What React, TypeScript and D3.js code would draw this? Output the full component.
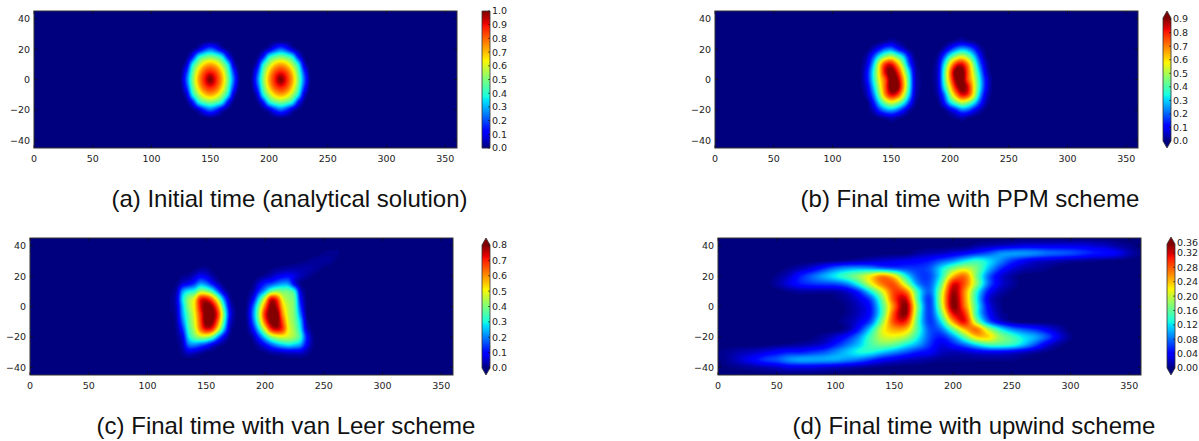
import React from "react";
import * as d3 from "d3";

// ---------- data ----------
const xTicks = [0, 50, 100, 150, 200, 250, 300, 350];
const yTicks = [40, 20, 0, -20, -40];
const captions = [
  "(a) Initial time (analytical solution)",
  "(b) Final time with PPM scheme",
  "(c) Final time with van Leer scheme",
  "(d) Final time with upwind scheme",
];
const barTicksA = ["0.0","0.1","0.2","0.3","0.4","0.5","0.6","0.7","0.8","0.9","1.0"];
const barTicksB = ["0.0","0.1","0.2","0.3","0.4","0.5","0.6","0.7","0.8","0.9"];
const barTicksC = ["0.0","0.1","0.2","0.3","0.4","0.5","0.6","0.7","0.8"];
const barTicksD = ["0.00","0.04","0.08","0.12","0.16","0.20","0.24","0.28","0.32","0.36"];

// lon 120..240 step 5, lat 30..-30 step 5
const fieldA = [
  [0,0,0,0,0,0,0,0,0,0,0,0,0, 0,0,0,0,0,0,0,0,0,0,0,0],
  [0,0,0,0,.004,.01,.015,.01,.004,0,0,0,0, 0,0,0,.004,.01,.015,.01,.004,0,0,0,0],
  [0,0,0,.01,.06,.16,.22,.16,.06,.01,0,0,0, 0,0,.01,.06,.16,.22,.16,.06,.01,0,0,0],
  [0,0,.01,.13,.36,.45,.49,.45,.36,.13,.01,0,0, 0,.01,.13,.36,.45,.49,.45,.36,.13,.01,0,0],
  [0,0,.07,.36,.54,.67,.72,.67,.54,.36,.07,0,0, 0,.07,.36,.54,.67,.72,.67,.54,.36,.07,0,0],
  [0,.004,.17,.45,.67,.82,.88,.82,.67,.45,.17,.004,0, .004,.17,.45,.67,.82,.88,.82,.67,.45,.17,.004,0],
  [0,.015,.22,.49,.72,.88,1,.88,.72,.49,.22,.015,0, .015,.22,.49,.72,.88,1,.88,.72,.49,.22,.015,0],
  [0,.004,.17,.45,.67,.82,.88,.82,.67,.45,.17,.004,0, .004,.17,.45,.67,.82,.88,.82,.67,.45,.17,.004,0],
  [0,0,.07,.36,.54,.67,.72,.67,.54,.36,.07,0,0, 0,.07,.36,.54,.67,.72,.67,.54,.36,.07,0,0],
  [0,0,.01,.13,.36,.45,.49,.45,.36,.13,.01,0,0, 0,.01,.13,.36,.45,.49,.45,.36,.13,.01,0,0],
  [0,0,0,.01,.06,.16,.22,.16,.06,.01,0,0,0, 0,0,.01,.06,.16,.22,.16,.06,.01,0,0,0],
  [0,0,0,0,.004,.01,.015,.01,.004,0,0,0,0, 0,0,0,.004,.01,.015,.01,.004,0,0,0,0],
  [0,0,0,0,0,0,0,0,0,0,0,0,0, 0,0,0,0,0,0,0,0,0,0,0,0],
];

// lon 125..235 step 5, lat 30..-30 step 5
const fieldB = [
  [0,0,0,0,0,0,0,0,0,0,0, 0, 0,0,0,0,0,0,0,0,0,0,0],
  [0,0,0,.005,.02,.04,.02,.005,0,0,0, 0, 0,0,0,.01,.03,.05,.03,.015,0,0,0],
  [0,.005,.05,.12,.2,.22,.14,.07,.01,0,0, 0, 0,0,.04,.13,.22,.27,.24,.16,.05,.005,0],
  [.002,.05,.18,.35,.47,.52,.43,.31,.12,.01,0, 0, 0,.03,.18,.37,.49,.55,.47,.32,.14,.02,0],
  [.01,.09,.29,.57,.78,.82,.67,.46,.2,.04,0, 0, .005,.06,.31,.58,.78,.83,.69,.45,.22,.06,0],
  [.02,.13,.35,.6,.84,.93,.82,.58,.32,.06,.005, 0, .01,.07,.37,.69,.93,.94,.75,.52,.29,.09,.005],
  [.02,.13,.34,.57,.74,.94,.9,.67,.37,.07,.01, 0, .01,.07,.37,.67,.9,.94,.75,.57,.34,.13,.02],
  [.01,.09,.29,.52,.74,.94,.93,.69,.37,.07,.01, 0, .005,.06,.32,.58,.82,.93,.84,.6,.35,.13,.02],
  [0,.06,.22,.45,.69,.83,.78,.58,.31,.06,.005, 0, 0,.04,.2,.46,.67,.82,.78,.57,.29,.09,.01],
  [0,.01,.13,.32,.47,.55,.49,.37,.18,.03,0, 0, 0,.01,.12,.31,.43,.52,.47,.35,.18,.05,.002],
  [0,.005,.05,.16,.24,.27,.22,.13,.04,0,0, 0, 0,0,.01,.07,.14,.22,.2,.12,.05,.005,0],
  [0,0,0,.015,.03,.05,.03,.01,0,0,0, 0, 0,0,0,.005,.02,.04,.02,.005,0,0,0],
  [0,0,0,0,0,0,0,0,0,0,0, 0, 0,0,0,0,0,0,0,0,0,0,0],
];

// lon 120..265 step 5, lat 40..-35 step 5
const fieldC = [
  [0,0,0,0,0,0,0,0,0,0,0,0, 0,0,0,0,0,0,0,0,0,0,0,0,0,0,0,0,0,0],
  [0,0,0,0,0,0,0,0,0,0,0,0, 0,0,0,0,0,0,0,0,0,0,0,0,0,.003,.008,.012,.012,.005],
  [0,0,0,0,0,0,0,0,0,0,0,0, 0,0,0,0,0,0,0,0,0,0,.003,.008,.014,.018,.02,.016,.005,0],
  [0,0,0,0,.004,.015,.015,.004,0,0,0,0, 0,0,0,0,0,.005,.012,.018,.022,.026,.028,.028,.024,.015,.005,0,0,0],
  [0,0,.012,.02,.05,.09,.07,.03,.005,0,0,0, 0,0,0,.005,.02,.04,.07,.09,.1,.07,.04,.02,.007,0,0,0,0,0],
  [0,.01,.06,.09,.14,.22,.19,.11,.04,.005,0,0, 0,0,.01,.06,.12,.15,.19,.22,.21,.08,.01,0,0,0,0,0,0,0],
  [.005,.04,.22,.29,.32,.43,.41,.33,.18,.05,.005,0, 0,.005,.03,.14,.24,.37,.41,.39,.38,.31,.07,.005,0,0,0,0,0,0],
  [.01,.06,.28,.42,.5,.7,.72,.62,.43,.2,.03,0, 0,.01,.09,.28,.48,.72,.68,.49,.42,.37,.11,.01,0,0,0,0,0,0],
  [.01,.05,.25,.42,.52,.72,.82,.78,.6,.31,.07,.005, 0,.02,.17,.39,.62,.8,.76,.55,.45,.38,.15,.01,0,0,0,0,0,0],
  [.005,.04,.23,.38,.5,.68,.82,.82,.68,.38,.1,.01, 0,.03,.2,.43,.7,.82,.82,.6,.46,.39,.2,.02,0,0,0,0,0,0],
  [0,.03,.19,.36,.48,.66,.82,.8,.62,.34,.07,.005, 0,.02,.17,.39,.64,.8,.82,.66,.48,.4,.26,.04,0,0,0,0,0,0],
  [0,.02,.13,.33,.45,.62,.72,.68,.49,.25,.04,0, 0,.01,.1,.28,.48,.68,.74,.68,.5,.42,.29,.07,.005,0,0,0,0,0],
  [0,.01,.07,.28,.38,.44,.44,.37,.21,.08,.01,0, 0,0,.03,.14,.27,.4,.46,.48,.46,.42,.33,.13,.02,0,0,0,0,0],
  [0,.005,.04,.19,.21,.18,.14,.08,.03,.01,0,0, 0,0,.005,.04,.1,.17,.23,.27,.29,.27,.23,.1,.02,0,0,0,0,0],
  [0,0,.02,.06,.05,.03,.01,.005,0,0,0,0, 0,0,0,.005,.01,.03,.04,.05,.06,.06,.06,.03,.005,0,0,0,0,0],
  [0,0,0,0,0,0,0,0,0,0,0,0, 0,0,0,0,0,0,0,0,0,0,0,0,0,0,0,0,0,0],
];

// lon 0..360 step 10, lat 45..-45 step 5
const fieldD = [
  [0,0,0,0,0,0,0,0,0,0, 0,0,0,0,0,0,0,0,0,0, 0,0,0,0,0,0,0,0,0,0, 0,0,0,0,0,0,0],
  [0,0,0,0,0,0,0,0,0,0, 0,0,0,0,0,0,0,0,0,0, 0,0,.01,.015,.02,.025,.03,.03,.03,.03, .03,.03,.025,.02,.01,.005,0],
  [0,0,0,0,0,0,0,0,0,0, 0,0,0,0,0,0,0,.01,.015,.02, .03,.04,.055,.07,.09,.095,.095,.09,.08,.075, .07,.06,.05,.045,.035,.015,.003],
  [0,0,0,0,0,0,0,0,0,.003, .005,.01,.015,.02,.025,.03,.035,.04,.05,.07, .09,.12,.14,.12,.09,.06,.04,.025,.02,.015, .01,.008,.005,.003,.001,0,0],
  [0,0,0,0,0,0,.005,.015,.03,.055, .08,.095,.1,.095,.08,.07,.065,.06,.07,.12, .17,.2,.17,.11,.06,.03,.015,.01,.005,0, 0,0,0,0,0,0,0],
  [0,0,0,0,0,.005,.02,.05,.075,.1, .125,.15,.18,.22,.26,.22,.13,.07,.065,.13, .24,.27,.17,.08,.03,.01,0,0,0,0, 0,0,0,0,0,0,0],
  [0,0,0,0,0,.01,.03,.05,.06,.065, .07,.09,.14,.21,.27,.28,.19,.09,.07,.16, .31,.28,.18,.08,.03,.01,0,0,0,0, 0,0,0,0,0,0,0],
  [0,0,0,0,0,0,.005,.01,.01,.01, .012,.025,.06,.13,.21,.29,.27,.14,.075,.19, .335,.26,.14,.05,.015,.003,0,0,0,0, 0,0,0,0,0,0,0],
  [0,0,0,0,0,0,0,0,0,0, .003,.01,.03,.07,.17,.29,.32,.15,.06,.2, .345,.26,.13,.03,.005,0,0,0,0,0, 0,0,0,0,0,0,0],
  [0,0,0,0,0,0,0,0,0,0, 0,.005,.02,.05,.15,.27,.345,.17,.06,.19, .345,.27,.14,.04,.006,0,0,0,0,0, 0,0,0,0,0,0,0],
  [0,0,0,0,0,0,0,0,0,0, 0,.005,.02,.05,.15,.29,.34,.16,.06,.16, .31,.3,.14,.05,.01,.002,0,0,0,0, 0,0,0,0,0,0,0],
  [0,0,0,0,0,0,0,0,0,0, .002,.01,.03,.07,.18,.29,.3,.15,.06,.12, .25,.31,.18,.08,.03,.008,0,0,0,0, 0,0,0,0,0,0,0],
  [0,0,0,0,0,0,0,0,0,0, 0,.01,.05,.12,.21,.25,.24,.15,.07,.08, .16,.24,.27,.19,.13,.09,.07,.055,.035,.015, 0,0,0,0,0,0,0],
  [0,0,0,0,0,0,0,0,.002,.01, .025,.05,.09,.15,.2,.21,.19,.13,.07,.05, .09,.16,.23,.23,.18,.15,.12,.1,.07,.03, .005,0,0,0,0,0,0],
  [0,0,0,0,0,.003,.006,.01,.015,.025, .05,.08,.11,.15,.17,.16,.13,.1,.06,.03, .05,.08,.12,.15,.15,.14,.11,.07,.03,.008, 0,0,0,0,0,0,0],
  [.003,.008,.015,.02,.03,.04,.05,.05,.06,.07, .09,.11,.13,.13,.11,.09,.07,.05,.04,.02, .015,.02,.03,.035,.035,.03,.02,.01,.003,0, 0,0,0,0,0,0,0],
  [.002,.01,.025,.04,.06,.07,.09,.1,.1,.1, .1,.09,.08,.06,.04,.03,.02,.015,.01,.005, .005,.005,.005,.005,.005,.005,.002,0,0,0, 0,0,0,0,0,0,0],
  [0,.003,.006,.01,.015,.02,.03,.03,.03,.025, .02,.015,.01,.005,.002,0,0,0,0,0, 0,0,0,0,0,0,0,0,0,0, 0,0,0,0,0,0,0],
  [0,0,0,0,0,0,0,0,0,0, 0,0,0,0,0,0,0,0,0,0, 0,0,0,0,0,0,0,0,0,0, 0,0,0,0,0,0,0],
];

// ---------- jet colour map ----------
const jetStops: [number, string][] = [
  [0, "#00007f"], [0.11, "#0000ff"], [0.125, "#0000ff"], [0.34, "#00dcff"], [0.35, "#00e4f7"],
  [0.375, "#16ffe1"], [0.5, "#7cff7a"], [0.64, "#fff600"], [0.66, "#ffe000"],
  [0.89, "#ff1300"], [0.91, "#e80000"], [1, "#7f0000"],
];
const jet = d3.scaleLinear<string>()
  .domain(jetStops.map((s) => s[0]))
  .range(jetStops.map((s) => s[1]))
  .clamp(true);

// bicubic smoothing of a grid, the equivalent of imshow's drawing interpolation
function smoothGrid(rows: number[][], k: number) {
  const ny = rows.length, nx = rows[0].length;
  const W = (nx - 1) * k + 1, H = (ny - 1) * k + 1;
  const cubic = (a: number, b: number, c: number, d: number, t: number) =>
    b + 0.5 * t * (c - a + t * (2 * a - 5 * b + 4 * c - d + t * (3 * (b - c) + d - a)));
  const at = (j: number, i: number) => {
    const r = rows[Math.max(0, Math.min(ny - 1, j))];
    return r[Math.max(0, Math.min(nx - 1, i))] || 0;
  };
  const out = new Array(W * H);
  for (let y = 0; y < H; y++) {
    const j = Math.floor(y / k), ty = y / k - j;
    for (let x = 0; x < W; x++) {
      const i = Math.floor(x / k), tx = x / k - i;
      const col = [-1, 0, 1, 2].map((dj) =>
        cubic(at(j + dj, i - 1), at(j + dj, i), at(j + dj, i + 1), at(j + dj, i + 2), tx));
      out[y * W + x] = Math.max(0, cubic(col[0], col[1], col[2], col[3], ty));
    }
  }
  return { values: out, W, H };
}

type Panel = {
  id: string; caption: string; field: number[][];
  lon0: number; dLon: number; lat0: number; dLat: number;
  x: number; y: number; w: number; h: number; capX: number; capY: number;
  barX: number; barTop: number; barBottom: number; vmax: number;
  ticks: string[]; extend: boolean; yLabelGap: number;
};

const panels: Panel[] = [
  { id: "a", caption: captions[0], field: fieldA, lon0: 120, dLon: 5, lat0: 30, dLat: 5,
    x: 34, y: 11, w: 423, h: 137, capX: 289.5, capY: 207, barX: 482, barTop: 11, barBottom: 148,
    vmax: 1, ticks: barTicksA, extend: false, yLabelGap: 4 },
  { id: "b", caption: captions[1], field: fieldB, lon0: 125, dLon: 5, lat0: 30, dLat: 5,
    x: 715, y: 11, w: 423, h: 137, capX: 970, capY: 207, barX: 1163, barTop: 18, barBottom: 141,
    vmax: 0.908, ticks: barTicksB, extend: true, yLabelGap: 4 },
  { id: "c", caption: captions[2], field: fieldC, lon0: 120, dLon: 5, lat0: 40, dLat: 5,
    x: 30, y: 238, w: 423, h: 137, capX: 286, capY: 434, barX: 482, barTop: 245, barBottom: 368,
    vmax: 0.8, ticks: barTicksC, extend: true, yLabelGap: 4 },
  { id: "d", caption: captions[3], field: fieldD, lon0: 0, dLon: 10, lat0: 45, dLat: 5,
    x: 718, y: 238, w: 423, h: 137, capX: 974, capY: 434, barX: 1167, barTop: 244, barBottom: 368,
    vmax: 0.345, ticks: barTicksD, extend: true, yLabelGap: 4 },
];

const TICK_FONT = "'DejaVu Sans', sans-serif";
const INK = "#222";
const LEVELS = 110;
const UP = 4;

function Heat({ p }: { p: Panel }) {
  const lonScale = d3.scaleLinear().domain([0, 360]).range([p.x, p.x + p.w]);
  const latScale = d3.scaleLinear().domain([-45, 45]).range([p.y + p.h, p.y]);
  const { values, W, H } = smoothGrid(p.field, UP);
  const thresholds = d3.range(1, LEVELS).map((i) => (p.vmax * i) / LEVELS);
  const contours = d3.contours().size([W, H]).smooth(true).thresholds(thresholds)(values);
  const path = d3.geoPath(
    d3.geoTransform({
      point(this: any, gx: number, gy: number) {
        const lon = p.lon0 + ((gx - 0.5) / UP) * p.dLon;
        const lat = p.lat0 - ((gy - 0.5) / UP) * p.dLat;
        this.stream.point(lonScale(lon), latScale(lat));
      },
    })
  );
  return (
    <g>
      <clipPath id={"clip-" + p.id}>
        <rect x={p.x} y={p.y} width={p.w} height={p.h} />
      </clipPath>
      <rect x={p.x} y={p.y} width={p.w} height={p.h} fill={jet(0)} />
      <g clipPath={`url(#clip-${p.id})`}>
        {contours.map((c, i) =>
          c.coordinates.length ? (
            <path key={i} d={path(c as any) || ""} fill={jet((c.value + p.vmax / LEVELS / 2) / p.vmax)} />
          ) : null
        )}
      </g>
      <rect x={p.x} y={p.y} width={p.w} height={p.h} fill="none" stroke="#333" strokeWidth={1} />
      {xTicks.map((t) => (
        <g key={"x" + t}>
          <line x1={lonScale(t)} x2={lonScale(t)} y1={p.y + p.h} y2={p.y + p.h - 3} stroke="#111" strokeWidth={0.7} />
          <line x1={lonScale(t)} x2={lonScale(t)} y1={p.y} y2={p.y + 3} stroke="#111" strokeWidth={0.7} />
          <text x={lonScale(t)} y={p.y + p.h + 14} textAnchor="middle" fontFamily={TICK_FONT} fontSize={9.5} fill={INK}>{t}</text>
        </g>
      ))}
      {yTicks.map((t) => (
        <g key={"y" + t}>
          <line x1={p.x} x2={p.x + 3} y1={latScale(t)} y2={latScale(t)} stroke="#111" strokeWidth={0.7} />
          <line x1={p.x + p.w} x2={p.x + p.w - 3} y1={latScale(t)} y2={latScale(t)} stroke="#111" strokeWidth={0.7} />
          <text x={p.x - p.yLabelGap} y={latScale(t) + 3.5} textAnchor="end" fontFamily={TICK_FONT} fontSize={9.5} fill={INK}>
            {t < 0 ? "\u2212" + Math.abs(t) : t}
          </text>
        </g>
      ))}
    </g>
  );
}

function ColorBar({ p }: { p: Panel }) {
  const barW = 8;
  const scale = d3.scaleLinear().domain([0, p.vmax]).range([p.barBottom, p.barTop]).clamp(true);
  const steps = d3.range(p.barTop, p.barBottom);
  const tip = 7;
  const x0 = p.barX, x1 = p.barX + barW, xm = p.barX + barW / 2;
  const outline = d3.path();
  if (p.extend) {
    outline.moveTo(x0, p.barBottom);
    outline.lineTo(xm, p.barBottom + tip);
    outline.lineTo(x1, p.barBottom);
    outline.lineTo(x1, p.barTop);
    outline.lineTo(xm, p.barTop - tip);
    outline.lineTo(x0, p.barTop);
    outline.closePath();
  } else {
    outline.rect(x0, p.barTop, barW, p.barBottom - p.barTop);
  }
  const lo = d3.path();
  lo.moveTo(x0, p.barBottom); lo.lineTo(xm, p.barBottom + tip); lo.lineTo(x1, p.barBottom); lo.closePath();
  const hi = d3.path();
  hi.moveTo(x0, p.barTop); hi.lineTo(xm, p.barTop - tip); hi.lineTo(x1, p.barTop); hi.closePath();
  return (
    <g>
      {steps.map((y) => (
        <rect key={y} x={x0} y={y} width={barW} height={1.2} fill={jet(scale.invert(y + 0.5) / p.vmax)} />
      ))}
      {p.extend && <path d={lo.toString()} fill={jet(0)} />}
      {p.extend && <path d={hi.toString()} fill={jet(1)} />}
      <path d={outline.toString()} fill="none" stroke="#333" strokeWidth={0.8} />
      {p.ticks.map((label) => {
        const v = +label;
        const y = scale(v);
        const over = v > p.vmax;
        return (
          <g key={label}>
            {!over && <line x1={x1} x2={x1 - 2} y1={y} y2={y} stroke="#111" strokeWidth={0.6} />}
            <text x={x1 + 2} y={y + 3.4 - (over ? 1 : 0)} fontFamily={TICK_FONT} fontSize={9.5} fill={INK}>{label}</text>
          </g>
        );
      })}
    </g>
  );
}

export default function App() {
  return (
    <svg width={1199} height={441} style={{ position: "absolute", left: 0, top: 0, display: "block", background: "#fff" }}>
      {panels.map((p) => (
        <g key={p.id}>
          <Heat p={p} />
          <ColorBar p={p} />
          <text x={p.capX} y={p.capY} textAnchor="middle" fontFamily="'Liberation Sans', Arial, sans-serif" fontSize={24} fill="#111">
            {p.caption}
          </text>
        </g>
      ))}
    </svg>
  );
}
